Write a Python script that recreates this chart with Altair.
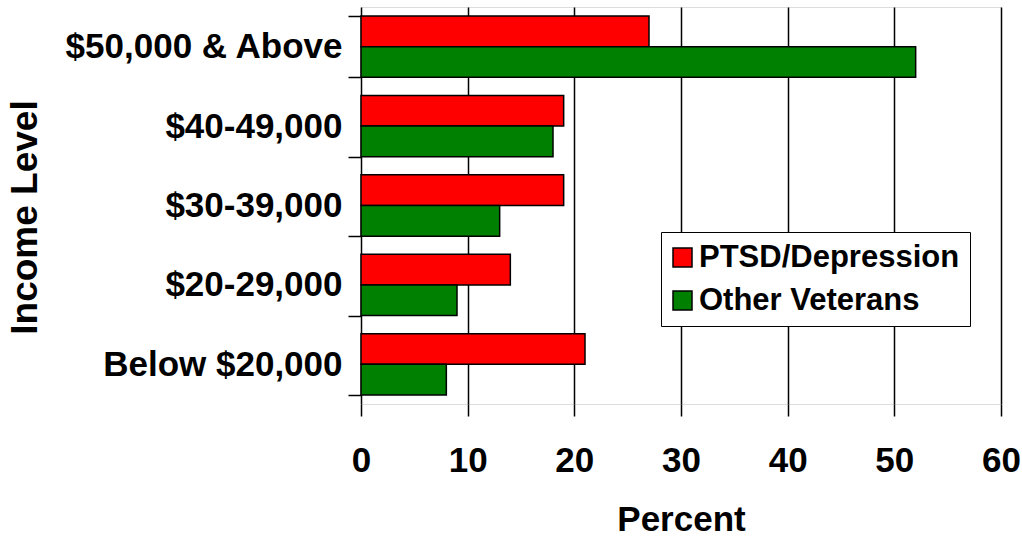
import altair as alt
import pandas as pd

categories = ["$50,000 & Above", "$40-49,000", "$30-39,000", "$20-29,000", "Below $20,000"]
series = ["PTSD/Depression", "Other Veterans"]
ptsd_values = [27, 19, 19, 14, 21]
other_values = [52, 18, 13, 9, 8]
x_ticks = [0, 10, 20, 30, 40, 50, 60]
colors = ["#FF0000", "#008000"]

rows = []
for c, p, o in zip(categories, ptsd_values, other_values):
    rows.append({"Income": c, "Group": series[0], "Percent": p})
    rows.append({"Income": c, "Group": series[1], "Percent": o})
df = pd.DataFrame(rows)

FONT = "Liberation Sans"

chart = alt.Chart(df).mark_bar(stroke="black", strokeWidth=1.5).encode(
    y=alt.Y("Income:N", sort=categories,
            scale=alt.Scale(paddingInner=0.227, paddingOuter=0.113),
            axis=alt.Axis(title="Income Level", tickBand="extent", grid=False, domain=False,
                          tickSize=13, tickColor="black", tickWidth=1.5,
                          labelFont=FONT, labelFontSize=35, labelFontWeight="bold", labelColor="black",
                          labelPadding=6, labelLimit=400,
                          titleFont=FONT, titleFontSize=37, titleFontWeight="bold", titleColor="black",
                          titleBaseline="alphabetic", titleX=-325, titleY=210, titleAngle=270)),
    yOffset=alt.YOffset("Group:N", sort=series, scale=alt.Scale(paddingInner=0, paddingOuter=0)),
    x=alt.X("Percent:Q", scale=alt.Scale(domain=[0, 60], nice=False),
            axis=alt.Axis(title="Percent", values=x_ticks, grid=True, gridColor="black", gridWidth=1.5,
                          gridOpacity=1, domain=False, tickSize=12, tickColor="black", tickWidth=1.5,
                          labelFont=FONT, labelFontSize=35, labelFontWeight="bold", labelColor="black",
                          labelBaseline="alphabetic", labelPadding=55, labelFlush=False,
                          titleFont=FONT, titleFontSize=35, titleFontWeight="bold", titleColor="black",
                          titleBaseline="alphabetic", titleY=126)),
    color=alt.Color("Group:N", sort=series,
                    scale=alt.Scale(domain=series, range=colors),
                    legend=alt.Legend(title=None, orient="none", legendX=300, legendY=225,
                                      fillColor="white", strokeColor="black",
                                      padding=10, symbolType="square", symbolSize=361,
                                      symbolStrokeColor="black", symbolStrokeWidth=1.5,
                                      symbolOpacity=1, symbolOffset=-4,
                                      labelFont=FONT, labelFontSize=31, labelFontWeight="bold",
                                      labelColor="black", labelOffset=1, rowPadding=11,
                                      labelLimit=400)),
).properties(
    width=640, height=397,
    autosize=alt.AutoSizeParams(type="none"),
    padding={"left": 361, "top": 7, "right": 21, "bottom": 133},
).configure_view(stroke="black", strokeWidth=2).configure(background="white")

chart.save("out.html", embed_options={"renderer": "svg", "actions": False})
